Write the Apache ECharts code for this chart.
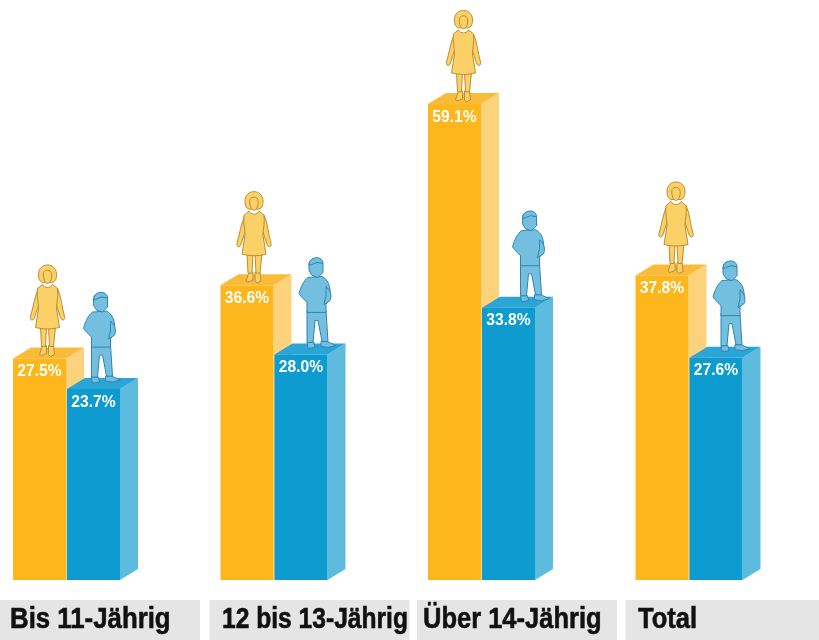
<!DOCTYPE html>
<html>
<head>
<meta charset="utf-8">
<style>html,body{margin:0;padding:0;background:#fff}#c{width:819px;height:640px}</style>
<script src="https://cdn.jsdelivr.net/npm/echarts@6/dist/echarts.min.js"></script>
</head>
<body>
<div id="c"></div>
<script>
const categories = ['Bis 11-Jährig', '12 bis 13-Jährig', 'Über 14-Jährig', 'Total'];
const girls = [27.5, 36.6, 59.1, 37.8];
const boys = [23.7, 28.0, 33.8, 27.6];

// decoration only: how far each figure stands from the middle of its bar
const womanNudge = [8, 7, 9, 14];
const manNudge = [7, 15, 21, 14];
// decoration only: offset of each grey strip, inset and squeeze of its caption
const stripNudge = [0, 2, 2, 3];
const captionInset = [10, 12.5, 6, 12.5];
const captionSqueeze = [0.86, 0.82, 0.85, 0.85];

const FONT = '"Liberation Sans",sans-serif';
const BAR_W = 53, DX = 18, DY = 11, GROUP_SHIFT = -34;

const woman = {
  fill: '#FAD067', line: '#B98F35', feetY: -4, parts: [
    'M-5,-9 L-1,-9 L-1,-1 L-6,1 L-8,0 Z',
    'M1,-9 L6,-9 L7,0 L3,2 L1,0 Z',
    'M-7,-28 L-1,-28 L-2,-8 L-6,-8 Z',
    'M1,-28 L8,-28 L6,-8 L2,-8 Z',
    'M-9,-66 C-13,-58 -14,-48 -17,-38 C-18,-34 -14,-33 -13,-37 L-8,-52 Z',
    'M10,-66 C14,-58 14,-48 17,-38 C18,-34 14,-33 13,-37 L8,-52 Z',
    'M-5,-70 C-3,-66 3,-66 5,-70 L10,-66 C11,-58 9,-52 9,-46 L12,-27 C4,-25 -4,-25 -12,-27 L-9,-46 C-9,-52 -11,-58 -10,-66 Z',
    'M-9,-79 C-10,-93 10,-93 9,-79 C9,-75 7,-72 4,-72 L-4,-72 C-7,-72 -9,-75 -9,-79 Z',
    'M-4,-82 C-2,-85 3,-85 4,-81 C5,-75 2,-71 0,-71 C-2,-71 -5,-75 -4,-82 Z'
  ]
};
const man = {
  fill: '#74BFE0', line: '#2D87AE', feetY: -8, parts: [
    'M-9,-4 L-2,-4 L-1,1 L-8,2 Z',
    'M5,-5 L11,-5 L20,-1 L12,1 L5,0 Z',
    'M-9,-36 L10,-36 L12,-5 L6,-5 L2,-26 L-1,-26 L-3,-4 L-9,-4 Z',
    'M-8,-69 L6,-70 C12,-67 15,-60 14,-50 L10,-42 L10,-34 L-9,-34 L-9,-44 C-13,-48 -16,-51 -17,-53 C-15,-60 -12,-66 -8,-69 Z',
    'M10,-60 C15,-56 16,-50 14,-46 L8,-42 L9,-47 L10,-50 Z',
    'M-7,-82 C-7,-90 6,-90 7,-82 L7,-74 L2,-69 L-4,-71 L-7,-76 Z',
    'M-7,-81 C-7,-91 7,-91 7,-83 L1,-84 Z'
  ]
};

function figure(person, x, y) {
  return {
    type: 'group', x: x, y: y + person.feetY, silent: true,
    children: person.parts.map(d => ({
      type: 'path',
      shape: { pathData: d },
      style: { fill: person.fill, stroke: person.line, lineWidth: 1 }
    }))
  };
}

function poly(points, fill) {
  return { type: 'polygon', shape: { points: points }, style: { fill: fill } };
}

function barRenderer(side, colors, person, nudge) {
  return function (params, api) {
    const idx = api.value(0), val = api.value(1);
    const top = api.coord([idx, val]);
    const base = api.coord([idx, 0]);
    const mid = top[0] + GROUP_SHIFT;
    const x0 = side < 0 ? mid - BAR_W : mid + 1;
    const x1 = x0 + BAR_W, t = top[1], b = base[1];
    return {
      type: 'group',
      children: [
        poly([[x1, t], [x1 + DX, t - DY], [x1 + DX, b - DY], [x1, b]], colors.side),
        poly([[x0, t], [x1, t], [x1 + DX, t - DY], [x0 + DX, t - DY]], colors.top),
        poly([[x0, t], [x1, t], [x1, b], [x0, b]], colors.front),
        figure(person, x0 + BAR_W / 2 + nudge[idx], t),
        {
          type: 'text', x: x0 + BAR_W / 2, y: t + 13, scaleX: 0.92,
          style: {
            text: val.toFixed(1) + '%', fill: '#fff', align: 'center',
            verticalAlign: 'middle', font: 'bold 17px ' + FONT
          }
        }
      ]
    };
  };
}

function captionRenderer(params, api) {
  const idx = api.value(0);
  const c = api.coord([idx, 0]);
  const left = c[0] - 100 + stripNudge[idx], y0 = c[1] + 20;
  return {
    type: 'group',
    children: [
      { type: 'rect', shape: { x: left, y: y0, width: 200, height: 40 }, style: { fill: '#E5E5E5' } },
      {
        type: 'text', x: left + captionInset[idx], y: y0 + 20, scaleX: captionSqueeze[idx],
        style: {
          text: categories[idx], fill: '#111', align: 'left', verticalAlign: 'middle',
          font: 'bold 30px ' + FONT, stroke: '#111', lineWidth: 0.6
        }
      }
    ]
  };
}

const chart = echarts.init(document.getElementById('c'), null, { renderer: 'canvas' });
chart.setOption({
  animation: false,
  backgroundColor: '#ffffff',
  grid: { left: -3.75, width: 830, top: 0, height: 580, outerBoundsMode: 'none' },
  xAxis: {
    type: 'category', data: categories,
    axisLine: { show: false }, axisTick: { show: false }, axisLabel: { show: false }
  },
  yAxis: { type: 'value', min: 0, max: 72, show: false },
  series: [
    {
      type: 'custom', name: 'Beschriftung', clip: false,
      data: categories.map((c, i) => [i, 0]), encode: { x: 0, y: 1 },
      renderItem: captionRenderer
    },
    {
      type: 'custom', name: 'Mädchen', clip: false,
      data: girls.map((v, i) => [i, v]), encode: { x: 0, y: 1 },
      renderItem: barRenderer(-1, { front: '#FDB71C', side: '#FCD27C', top: '#FBBB3A' }, woman, womanNudge)
    },
    {
      type: 'custom', name: 'Knaben', clip: false,
      data: boys.map((v, i) => [i, v]), encode: { x: 0, y: 1 },
      renderItem: barRenderer(1, { front: '#0E9BCF', side: '#5DBBDE', top: '#2AA5D6' }, man, manNudge)
    }
  ]
});
</script>
</body>
</html>
